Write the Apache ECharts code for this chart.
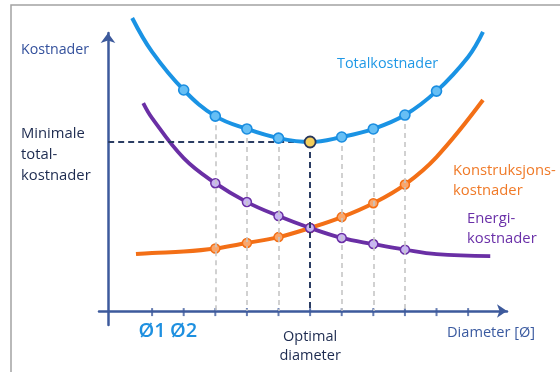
<!DOCTYPE html>
<html>
<head>
<meta charset="utf-8">
<script src="https://cdn.jsdelivr.net/npm/echarts@6/dist/echarts.min.js"></script>
<style>
  html, body { margin: 0; padding: 0; background: #ffffff; }
  #chart { width: 560px; height: 372px; }
</style>
</head>
<body>
<div id="chart"></div>
<script>
// Diameter steps along the x axis (Ø1 = 1, optimal diameter = 6)
const tickSteps = [1, 2, 3, 4, 5, 6, 7, 8, 9, 10, 11];
const tickLabels = { 1: 'Ø1', 2: 'Ø2', 6: 'Optimal\ndiameter' };
const labelSteps = [1, 2, 6];

// Cost curves (relative cost level)
const totalX = [0.37, 1, 2, 3, 4, 5, 6, 7, 8, 9, 10, 11, 11.47];
const totalCost = [105.4, 93.2, 79.5, 70.1, 65.5, 62.2, 60.8, 62.6, 65.5, 70.5, 79.1, 91.4, 100.4];

const energyX = [0.72, 1, 2, 3, 4, 5, 6, 7, 8, 9, 10, 11.7];
const energyCost = [74.8, 69.4, 55.0, 46.0, 39.2, 34.2, 29.9, 26.3, 24.1, 22.1, 20.5, 19.8];

const constrX = [0.49, 1, 2, 3, 4, 5, 6, 7, 8, 9, 10, 11.47];
const constrCost = [20.5, 20.9, 21.4, 22.5, 24.5, 26.6, 29.9, 33.8, 38.8, 45.5, 55.4, 75.9];

// Which steps carry a point marker
const totalMarked = [2, 3, 4, 5, 6, 7, 8, 9, 10];
const partMarked = [3, 4, 5, 6, 7, 8, 9];
const optimalStep = 6;
const guideSteps = [3, 4, 5, 7, 8, 9];
const yAxisStep = -0.39; // where the cost axis crosses the diameter axis

const FONT = 'Open Sans';
const AXIS = '#3d5a9c';
const NAVY = '#1c2a4f';

function buildData(xs, ys, marked) {
  return xs.map((x, i) => ({
    value: [x, ys[i]],
    symbol: marked.indexOf(x) >= 0 ? 'circle' : 'none'
  }));
}

const totalData = buildData(totalX, totalCost, totalMarked);
const optIdx = totalX.indexOf(optimalStep);
const optCost = totalCost[optIdx];
totalData[optIdx].symbolSize = 11;
totalData[optIdx].itemStyle = { color: '#f4cf5c', borderColor: '#26365c', borderWidth: 1.8 };

const costAt = s => totalCost[totalX.indexOf(s)];

const chart = echarts.init(document.getElementById('chart'), null, { renderer: 'canvas' });

chart.setOption({
  animation: false,
  backgroundColor: '#ffffff',
  grid: { left: 99, right: 53, top: 33, bottom: 47 },
  xAxis: {
    type: 'value', min: -0.68, max: 12.23, offset: -14,
    axisLine: { show: true, onZero: false, symbol: ['none', 'arrow'], symbolSize: [10, 10],
      lineStyle: { color: AXIS, width: 2.5 } },
    axisTick: { show: false },
    axisLabel: {
      show: true, customValues: labelSteps, margin: 8,
      fontFamily: FONT, fontSize: 14.5, color: NAVY,
      formatter: v => {
        const t = tickLabels[v];
        if (!t) return '';
        if (t.indexOf('\n') >= 0) {
          const parts = t.split('\n');
          return '{o1|' + parts[0] + '}\n{o2|' + parts[1] + '}';
        }
        return '{d|' + t + '}';
      },
      rich: {
        d: { fontFamily: FONT, fontSize: 20, fontWeight: 600, color: '#1e90e0', lineHeight: 24 },
        o1: { fontFamily: FONT, fontSize: 14.5, color: NAVY, lineHeight: 36 },
        o2: { fontFamily: FONT, fontSize: 14.5, color: NAVY, lineHeight: 2 }
      }
    },
    splitLine: { show: false }
  },
  yAxis: {
    type: 'value', min: -5, max: 100, offset: -9,
    axisLine: { show: true, onZero: false, symbol: ['none', 'arrow'], symbolSize: [11, 10],
      lineStyle: { color: AXIS, width: 2.5 } },
    axisTick: { show: false },
    axisLabel: { show: false },
    splitLine: { show: false }
  },
  series: [
    {
      name: 'guides', type: 'line', data: [], z: 1, silent: true,
      markLine: {
        silent: true, symbol: ['none', 'none'], label: { show: false }, animation: false,
        data: guideSteps.map(s => [
          { coord: [s, costAt(s)], lineStyle: { color: '#c6c6c6', type: [5, 4], width: 1.6 } },
          { coord: [s, 0] }
        ]).concat([
          [{ coord: [optimalStep, optCost], lineStyle: { color: '#2b3d63', type: [6, 4], width: 2 } }, { coord: [optimalStep, 0] }],
          [{ coord: [yAxisStep, optCost], lineStyle: { color: '#2b3d63', type: [6, 4], width: 2 } }, { coord: [optimalStep, optCost] }]
        ])
      }
    },
    {
      // tick marks crossing the diameter axis
      name: 'ticks', type: 'scatter', z: 2, silent: true,
      data: tickSteps.map(s => [s, 0]),
      symbol: 'rect', symbolSize: [2, 8], symbolOffset: [0, 1],
      itemStyle: { color: AXIS }
    },
    {
      name: 'Konstruksjonskostnader', type: 'line', smooth: 0.4, z: 3,
      data: buildData(constrX, constrCost, partMarked),
      symbolSize: 9, showAllSymbol: true,
      lineStyle: { color: '#f36f16', width: 4 },
      itemStyle: { color: '#f9a66c', borderColor: '#f36f16', borderWidth: 1.5 }
    },
    {
      name: 'Energikostnader', type: 'line', smooth: 0.4, z: 4,
      data: buildData(energyX, energyCost, partMarked),
      symbolSize: 9, showAllSymbol: true,
      lineStyle: { color: '#6a2fa5', width: 3.8 },
      itemStyle: { color: '#c9b6f2', borderColor: '#6a2fa5', borderWidth: 1.5 }
    },
    {
      name: 'Totalkostnader', type: 'line', smooth: 0.4, z: 5, clip: false,
      data: totalData,
      symbolSize: 10, showAllSymbol: true,
      lineStyle: { color: '#1a93e4', width: 4 },
      itemStyle: { color: '#66bff5', borderColor: '#1a8de0', borderWidth: 1.6 }
    }
  ],
  graphic: [
    { type: 'rect', z: -10, silent: true, shape: { x: 11, y: 5, width: 700, height: 500 },
      style: { fill: 'none', stroke: '#a3a3a3', lineWidth: 1.5 } },
    { type: 'text', left: 21, top: 43, silent: true,
      style: { text: 'Kostnader', fontFamily: FONT, fontSize: 14.2, fill: '#33509c' } },
    { type: 'text', left: 21, top: 123, silent: true,
      style: { text: 'Minimale\ntotal-\nkostnader', fontFamily: FONT, fontSize: 14.8, lineHeight: 21, fill: NAVY } },
    { type: 'text', left: 337, top: 57, silent: true,
      style: { text: 'Totalkostnader', fontFamily: FONT, fontSize: 14.4, fill: '#1f98e6' } },
    { type: 'text', left: 453, top: 161, silent: true,
      style: { text: 'Konstruksjons-\nkostnader', fontFamily: FONT, fontSize: 14.8, lineHeight: 20, fill: '#f07a28' } },
    { type: 'text', left: 467, top: 209, silent: true,
      style: { text: 'Energi-\nkostnader', fontFamily: FONT, fontSize: 14.8, lineHeight: 20, fill: '#6a30a8' } },
    { type: 'text', left: 447, top: 325, silent: true,
      style: { text: 'Diameter [Ø]', fontFamily: FONT, fontSize: 14.6, fill: '#3a5aa0' } }
  ]
});
</script>
</body>
</html>
